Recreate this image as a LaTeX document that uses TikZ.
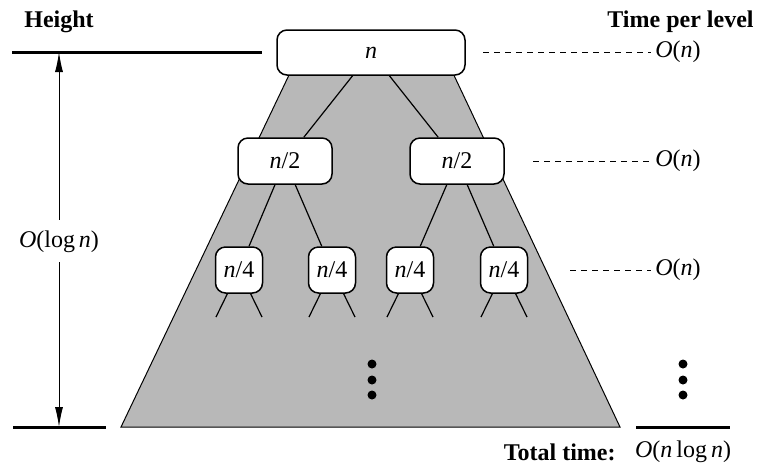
\documentclass[tikz,border=0pt]{standalone}
\usepackage{fontspec}
\setmainfont{Liberation Serif}
\usetikzlibrary{arrows.meta}
\definecolor{treegray}{gray}{0.72}
\newcommand{\mi}[1]{\textit{#1}}

\begin{document}
\begin{tikzpicture}[x=0.5pt,y=-0.5pt,
  every node/.style={font=\fontsize{12}{14}\selectfont},
  hdr/.style={font=\fontsize{12}{14}\selectfont\bfseries, inner sep=0pt},
  recbox/.style={draw, fill=white, line width=0.75pt, rounded corners=5pt,
    minimum height=23pt, inner sep=0pt},
  levelline/.style={line width=1.5pt},
  costline/.style={dash pattern=on 3pt off 2.5pt, line width=0.4pt},
  heightarrow/.style={arrows={Latex[length=10pt,width=4pt]-Latex[length=10pt,width=4pt]}, line width=0.5pt}]
  \useasboundingbox (0,0) rectangle (757,463);

  % Shaded recursion tree
  \filldraw[fill=treegray, draw=black, line width=0.5pt]
    (300,52) -- (443,52) -- (620,427) -- (121,427) -- cycle;

  % Subproblem boxes
  \node[recbox, minimum width=94pt, minimum height=22.5pt] (root) at (371,52.5) {\mi{n}};
  \node[recbox, minimum width=47pt] (hl) at (285,161) {\mi{n}/2};
  \node[recbox, minimum width=47pt] (hr) at (457,161) {\mi{n}/2};
  \foreach \x/\name in {239/ql, 332/qm, 410/qn, 504/qr}
    \node[recbox, minimum width=23.5pt] (\name) at (\x,270) {\mi{n}/4};

  % Tree edges
  \draw[line width=0.6pt] (root) -- (hl) (root) -- (hr)
    (hl) -- (ql) (hl) -- (qm) (hr) -- (qn) (hr) -- (qr);

  % Stubs below the n/4 boxes
  \foreach \name in {ql,qm,qn,qr} {
    \coordinate (\name-l) at ([shift={(-23,47)}]\name.center);
    \coordinate (\name-r) at ([shift={(23,47)}]\name.center);
    \draw[line width=0.6pt] (\name) -- (\name-l) (\name) -- (\name-r);
  }

  % Vertical dots
  \foreach \y in {364,380,395} {
    \fill (372,\y) circle (2.25pt);
    \fill (683,\y) circle (2.25pt);
  }

  % Height
  \node[hdr] (hgt) at (59,22) {Height};
  \draw[levelline] (12,52) -- (262,52);
  \draw[levelline] (13,427) -- (106,427);
  \coordinate (htop) at (59,52);
  \coordinate (hbot) at (59,427);
  \draw[heightarrow] (htop) -- (hbot)
    node[pos=0.505, fill=white, inner xsep=2pt, inner ysep=5pt] (hlbl)
    {\mi{O}(log\,\mi{n})};

  % Time per level
  \node[hdr, anchor=east] (tpl) at (754,22) {Time per level};
  \foreach \y/\x/\name in {52/483/c1, 161/533/c2, 270/570/c3} {
    \node[anchor=west, inner sep=0pt] (\name) at (655,\y) {\mi{O}(\mi{n})};
    \coordinate (\name-s) at (\x,\y);
    \draw[costline] (\name-s) -- ([xshift=-2pt]\name.west);
  }
  \draw[levelline] (636,427) -- (730,427);

  % Total
  \node[inner sep=0pt] (tot) at (683,452) {\mi{O}(\mi{n}\,log\,\mi{n})};
  \node[hdr, anchor=east] (totl) at (616,452) {Total time:};
\end{tikzpicture}
\end{document}
